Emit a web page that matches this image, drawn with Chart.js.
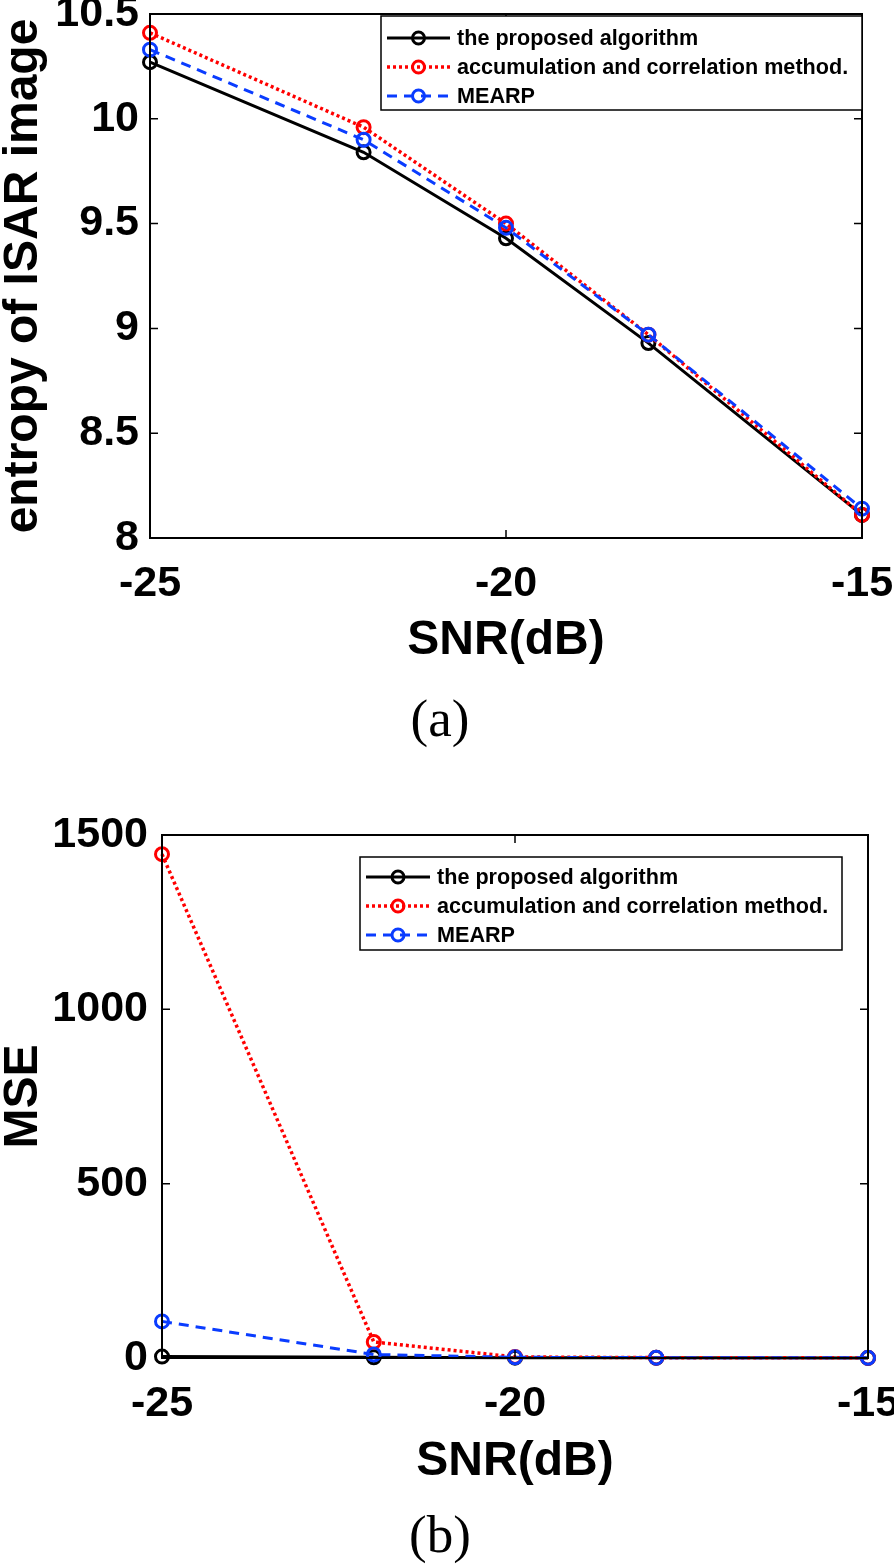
<!DOCTYPE html>
<html>
<head>
<meta charset="utf-8">
<script src="https://cdn.jsdelivr.net/npm/chart.js@4.4.1/dist/chart.umd.min.js"></script>
<style>
  html, body { margin: 0; padding: 0; background: #fff; }
  body { width: 894px; height: 1564px; position: relative; overflow: hidden; }
  .wrap { position: absolute; left: 0; width: 894px; }
  .cap { position: absolute; left: 0; width: 880px; text-align: center; font-family: 'Liberation Serif', 'DejaVu Serif', serif; font-size: 53px; color: #000; line-height: 1; }
</style>
</head>
<body>
<div class="wrap" id="wa" style="top:0;height:670px;"><canvas id="ca"></canvas></div>
<div class="cap" style="top:692px;">(a)</div>
<div class="wrap" id="wb" style="top:800px;height:690px;"><canvas id="cb"></canvas></div>
<div class="cap" style="top:1508px;">(b)</div>
<script>
// ---- data ----
const snr = [-25, -22, -20, -18, -15];
const seriesLabels = ['the proposed algorithm', 'accumulation and correlation method.', 'MEARP'];

const entropyProposed = [10.27, 9.84, 9.43, 8.93, 8.11];
const entropyAccum    = [10.41, 9.96, 9.50, 8.97, 8.11];
const entropyMEARP    = [10.33, 9.90, 9.48, 8.97, 8.14];

const mseProposed = [4, 2, 1, 0.5, 0.3];
const mseAccum    = [1445, 46, 3, 1, 0.5];
const mseMEARP    = [105, 10, 2, 1, 0.5];

const xTicks = [-25, -20, -15];
const entropyTicks = [8, 8.5, 9, 9.5, 10, 10.5];
const mseTicks = [0, 500, 1000, 1500];

// ---- styling ----
const FONT = "'Liberation Sans', Arial, Helvetica, sans-serif";
const styles = [
  { color: '#000000', dash: [], width: 3 },
  { color: '#ff0000', dash: [3, 3], width: 3.5 },
  { color: '#0a3cff', dash: [10, 7], width: 3 }
];

function makeDatasets(arrs) {
  return arrs.map((arr, i) => ({
    label: seriesLabels[i],
    data: snr.map((x, k) => ({ x: x, y: arr[k] })),
    borderColor: styles[i].color,
    borderDash: styles[i].dash,
    borderWidth: styles[i].width,
    pointStyle: 'circle',
    pointRadius: 6.5,
    pointBorderWidth: 3,
    pointBorderColor: styles[i].color,
    pointBackgroundColor: 'rgba(0,0,0,0)',
    fill: false,
    tension: 0,
    clip: false,
    order: 3 - i
  }));
}

// plugin: box, inward ticks, legend
const framePlugin = {
  id: 'frame',
  afterDatasetsDraw(chart, args, opts) {
    const ctx = chart.ctx;
    const a = chart.chartArea;
    const xs = chart.scales.x, ys = chart.scales.y;
    ctx.save();
    ctx.strokeStyle = '#000';
    ctx.lineWidth = 2;
    ctx.setLineDash([]);
    ctx.strokeRect(a.left, a.top, a.right - a.left, a.bottom - a.top);
    ctx.lineWidth = 1.5;
    const tl = 8;
    opts.xTicks.forEach(v => {
      const px = xs.getPixelForValue(v);
      ctx.beginPath();
      ctx.moveTo(px, a.bottom); ctx.lineTo(px, a.bottom - tl);
      ctx.moveTo(px, a.top); ctx.lineTo(px, a.top + tl);
      ctx.stroke();
    });
    opts.yTicks.forEach(v => {
      const py = ys.getPixelForValue(v);
      ctx.beginPath();
      ctx.moveTo(a.left, py); ctx.lineTo(a.left + tl, py);
      ctx.moveTo(a.right, py); ctx.lineTo(a.right - tl, py);
      ctx.stroke();
    });
    // legend
    const L = opts.legend;
    ctx.fillStyle = '#fff';
    ctx.fillRect(L.x, L.y, L.w, L.h);
    ctx.strokeStyle = '#000';
    ctx.lineWidth = 1.5;
    ctx.strokeRect(L.x, L.y, L.w, L.h);
    chart.data.datasets.forEach((ds, i) => {
      const y = L.rows[i];
      ctx.strokeStyle = ds.borderColor;
      ctx.lineWidth = ds.borderWidth;
      ctx.setLineDash(ds.borderDash);
      ctx.beginPath();
      ctx.moveTo(L.s0, y); ctx.lineTo(L.s1, y);
      ctx.stroke();
      ctx.setLineDash([]);
      ctx.lineWidth = 3;
      ctx.beginPath();
      ctx.arc((L.s0 + L.s1) / 2, y, 6, 0, Math.PI * 2);
      ctx.stroke();
      ctx.fillStyle = '#000';
      ctx.font = 'bold 21.6px ' + FONT;
      ctx.textBaseline = 'middle';
      ctx.textAlign = 'left';
      ctx.fillText(ds.label, L.tx, y + 1);
    });
    ctx.restore();
  }
};

function zeroPad(s) { s.paddingTop = 0; s.paddingBottom = 0; s.paddingLeft = 0; s.paddingRight = 0; }

function makeChart(canvasId, datasets, cfg) {
  return new Chart(document.getElementById(canvasId), {
    type: 'line',
    data: { datasets: datasets },
    plugins: [framePlugin],
    options: {
      responsive: true,
      maintainAspectRatio: false,
      animation: false,
      layout: { padding: { top: cfg.padTop, right: cfg.padRight, left: 0, bottom: 0 } },
      plugins: {
        legend: { display: false },
        tooltip: { enabled: false },
        frame: { xTicks: xTicks, yTicks: cfg.yTicks, legend: cfg.legend }
      },
      scales: {
        x: {
          type: 'linear',
          min: -25, max: -15,
          afterBuildTicks: s => { s.ticks = xTicks.map(v => ({ value: v })); },
          afterFit: s => { s.height = cfg.xAxisH; zeroPad(s); },
          grid: { display: false, drawTicks: false },
          border: { display: false },
          ticks: { color: '#000', font: { family: FONT, size: 43, weight: 'bold' }, padding: 20, maxRotation: 0, callback: v => String(v) },
          title: { display: true, text: 'SNR(dB)', color: '#000', font: { family: FONT, size: 48, weight: 'bold', lineHeight: 1 }, padding: { top: 0, bottom: cfg.xTitlePad } }
        },
        y: {
          type: 'linear',
          min: cfg.yMin, max: cfg.yMax,
          afterBuildTicks: s => { s.ticks = cfg.yTicks.map(v => ({ value: v })); },
          afterFit: s => { s.width = cfg.yAxisW; zeroPad(s); },
          grid: { display: false, drawTicks: false },
          border: { display: false },
          ticks: { color: '#000', font: { family: FONT, size: 43, weight: 'bold' }, padding: cfg.yTickPad, callback: v => String(v) },
          title: { display: true, text: cfg.yTitle, color: '#000', font: { family: FONT, size: 48, weight: 'bold', lineHeight: 1 }, padding: { top: 0, bottom: 0 } }
        }
      }
    }
  });
}

makeChart('ca', makeDatasets([entropyProposed, entropyAccum, entropyMEARP]), {
  padTop: 14, padRight: 32, xAxisH: 132, yAxisW: 150, yTickPad: 11, xTitlePad: 5,
  yMin: 8, yMax: 10.5, yTicks: entropyTicks, yTitle: 'entropy of ISAR image',
  legend: { x: 381, y: 16, w: 481, h: 94, rows: [38, 67, 96], s0: 387, s1: 450, tx: 457 }
});

makeChart('cb', makeDatasets([mseProposed, mseAccum, mseMEARP]), {
  padTop: 35, padRight: 26, xAxisH: 132, yAxisW: 162, yTickPad: 14, xTitlePad: 4,
  yMin: 0, yMax: 1500, yTicks: mseTicks, yTitle: 'MSE',
  legend: { x: 360, y: 57, w: 482, h: 93, rows: [77, 106, 135], s0: 366, s1: 430, tx: 437 }
});
</script>
</body>
</html>
